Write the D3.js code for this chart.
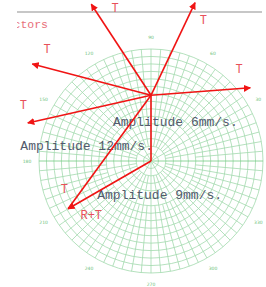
<!DOCTYPE html>
<html><head><meta charset="utf-8">
<script src="https://cdn.jsdelivr.net/npm/d3@7"></script>
<style>html,body{margin:0;padding:0;background:#fff;}svg{display:block;}</style>
</head><body>
<svg id="c" width="266" height="287"></svg>
<script>
// ---- data (grid units) ----
const ringCount = 15;
const angleTicks = [30, 60, 90, 120, 150, 180, 210, 240, 270, 300, 330];
const rVectorEnd = [0, 8.8];                       // R vector from origin
const tEndX = [-8.0, 5.9, -15.9, 13.3, -16.5, -11.1]; // T vectors from R tip
const tEndY = [21.0, 21.2, 13.0, 9.8, 5.1, -6.4];
const tLabelX = [-4.8, 7.0, -13.9, 11.8, -17.1, -11.6];
const tLabelY = [20.4, 18.7, 14.9, 12.2, 7.4, -3.9];
const sumLabel = ["R+T", -8.0, -7.4];
const ampTexts = ["Amplitude 6mm/s.", "Amplitude 12mm/s.", "Amplitude 9mm/s."];
const ampX = [-5.1, -17.5, -7.2];
const ampY = [4.7, 1.5, -5.1];
const title = "Vectors";

// ---- layout ----
const cx = 151, cy = 161, R = 112;
const svg = d3.select("#c");
const x = d3.scaleLinear().domain([-ringCount, ringCount]).range([cx - R, cx + R]);
const y = d3.scaleLinear().domain([-ringCount, ringCount]).range([cy + R, cy - R]);
const r = d3.scaleLinear().domain([0, ringCount]).range([0, R]);

const defs = svg.append("defs");
defs.append("clipPath").attr("id", "clipL").append("rect").attr("x", 17).attr("y", 0).attr("width", 266).attr("height", 287);
defs.append("marker").attr("id", "ah").attr("viewBox", "0 0 10 10").attr("refX", 9).attr("refY", 5)
  .attr("markerWidth", 4.5).attr("markerHeight", 4.5).attr("orient", "auto")
  .append("path").attr("d", "M0,0 L10,5 L0,10 z").attr("fill", "#f01414");

const grid = svg.append("g");
const gridCol = "#a2d9ad";
// circles
grid.selectAll("circle").data(d3.range(1, ringCount + 1)).join("circle")
  .attr("cx", x(0)).attr("cy", y(0)).attr("r", d => r(d))
  .attr("fill", "none").attr("stroke", gridCol).attr("stroke-width", 0.8);
// radial lines
const radials = [];
for (let a = 0; a < 360; a += 5) {
  let start = 0;
  if (a % 30 === 0) start = 0;
  else if (a % 10 === 0) start = 2;
  else start = 6;
  radials.push({a, start});
}
grid.selectAll("line.rad").data(radials).join("line").attr("class", "rad")
  .attr("x1", d => x(d.start * Math.cos(d.a * Math.PI / 180)))
  .attr("y1", d => y(d.start * Math.sin(d.a * Math.PI / 180)))
  .attr("x2", d => x(ringCount * Math.cos(d.a * Math.PI / 180)))
  .attr("y2", d => y(ringCount * Math.sin(d.a * Math.PI / 180)))
  .attr("stroke", d => (d.a === 0 || d.a === 180) ? "#74cc84" : gridCol)
  .attr("stroke-width", 0.8);
// angle labels
grid.selectAll("text").data(angleTicks).join("text")
  .attr("x", d => x(16.6 * Math.cos(d * Math.PI / 180)))
  .attr("y", d => y(16.6 * Math.sin(d * Math.PI / 180)))
  .attr("text-anchor", "middle").attr("dominant-baseline", "central")
  .attr("font-family", "DejaVu Sans").attr("font-size", 4.5).attr("fill", "#6cbf7a")
  .text(d => d);

// title + rule
svg.append("line").attr("x1", 17).attr("x2", 262).attr("y1", 12).attr("y2", 12)
  .attr("stroke", "#b4b4b4").attr("stroke-width", 1.5);
svg.append("text").attr("clip-path", "url(#clipL)")
  .attr("x", 48).attr("y", 28).attr("text-anchor", "end")
  .attr("font-family", "Liberation Mono, Courier New, monospace").attr("font-size", 11.5)
  .attr("fill", "#e8707a").text(title);

// amplitude labels
svg.selectAll("text.amp").data(ampTexts).join("text").attr("class", "amp")
  .attr("x", (d, i) => x(ampX[i])).attr("y", (d, i) => y(ampY[i]))
  .attr("font-family", "Liberation Mono, Courier New, monospace").attr("font-size", 13)
  .attr("fill", "#525a6c").text(d => d);

// vectors
const red = "#f01414";
const vec = svg.append("g").attr("stroke", red).attr("stroke-width", 1.6).attr("fill", "none");
vec.append("line").attr("x1", x(0)).attr("y1", y(0)).attr("x2", x(rVectorEnd[0])).attr("y2", y(rVectorEnd[1]));
vec.selectAll("line.t").data(tEndX).join("line").attr("class", "t")
  .attr("x1", x(rVectorEnd[0])).attr("y1", y(rVectorEnd[1]))
  .attr("x2", (d) => x(d)).attr("y2", (d, i) => y(tEndY[i]))
  .attr("marker-end", (d, i) => i === tEndX.length - 1 ? null : "url(#ah)");
vec.append("line").attr("x1", x(0)).attr("y1", y(0))
  .attr("x2", x(tEndX[tEndX.length - 1])).attr("y2", y(tEndY[tEndY.length - 1]))
  .attr("marker-end", "url(#ah)");

// T labels
svg.selectAll("text.tl").data(tLabelX).join("text").attr("class", "tl")
  .attr("x", d => x(d)).attr("y", (d, i) => y(tLabelY[i]))
  .attr("text-anchor", "middle").attr("dominant-baseline", "central")
  .attr("font-family", "Liberation Mono, Courier New, monospace").attr("font-size", 12)
  .attr("fill", "#e8505a").text("T");
svg.append("text").attr("x", x(sumLabel[1])).attr("y", y(sumLabel[2]))
  .attr("text-anchor", "middle").attr("dominant-baseline", "central")
  .attr("font-family", "Liberation Mono, Courier New, monospace").attr("font-size", 12)
  .attr("fill", "#e8505a").text(sumLabel[0]);
</script>
</body></html>
